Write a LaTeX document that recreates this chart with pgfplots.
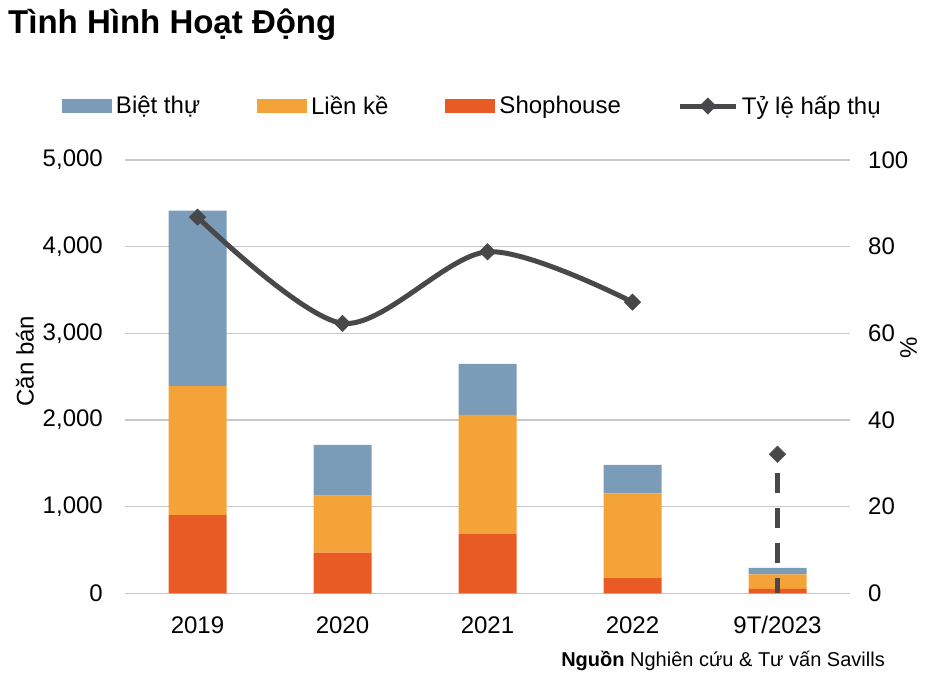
\documentclass[border=0pt]{standalone}
\usepackage{pgfplots}
\pgfplotsset{compat=1.18}
\usepackage{fontspec}
\setmainfont{Liberation Sans}
\definecolor{cBiet}{HTML}{7A9CB8}
\definecolor{cLien}{HTML}{F4A338}
\definecolor{cShop}{HTML}{E85B25}
\definecolor{lineC}{HTML}{48484A}
\definecolor{axgray}{HTML}{C8C4C2}
\definecolor{grgray}{HTML}{C9C9C9}
\pgfplotsset{
  patchleg/.style={legend image code/.code={\fill[##1,draw=none] (0pt,-7pt) rectangle (50pt,7pt);}},
  lineleg/.style={legend image code/.code={\draw[##1,mark repeat=2,mark phase=2] plot coordinates {(0pt,0pt)(27.5pt,0pt)(55pt,0pt)};}},
  common/.style={
    at={(125pt,90.6pt)}, anchor=south west, scale only axis,
    width=725pt, height=433.5pt, xmin=-0.5, xmax=4.5,
    every tick label/.append style={font=\fontsize{24}{28}\selectfont},
    label style={font=\fontsize{24}{28}\selectfont},
    /pgf/number format/assume math mode=true,
    /pgf/number format/1000 sep={,},
    scaled y ticks=false,
  }
}
\begin{document}
\begin{tikzpicture}[x=1pt,y=1pt]
\useasboundingbox (0,0) rectangle (934,684);
\node[anchor=base west, inner sep=0pt, font=\fontsize{33}{38}\selectfont\bfseries] at (8,650.4) {Tình Hình Hoạt Động};
\node[anchor=base east, inner sep=0pt, font=\fontsize{20}{24}\selectfont] at (885,17.3) {\textbf{Nguồn} Nghiên cứu \& Tư vấn Savills};
\begin{axis}[common,
  ymin=0, ymax=5000,
  ybar stacked, bar width=58pt,
  xtick={0,1,2,3,4}, xticklabels={2019,2020,2021,2022,9T/2023},
  major x tick style={draw=none},
  xticklabel style={anchor=north, inner sep=0pt, yshift=-23pt},
  extra x ticks={-0.5,0.5,1.5,2.5,3.5,4.5}, extra x tick labels={},
  extra x tick style={major tick length=7pt, tick align=outside, major tick style={draw=axgray, line width=1.5pt}, grid=none},
  ytick={0,1000,...,5000}, ymajorgrids,
  major grid style={draw=grgray, line width=1.5pt},
  axis x line*=bottom, axis y line*=left,
  y axis line style={draw=none}, major y tick style={draw=none},
  x axis line style={draw=axgray, line width=1.5pt, -},
  yticklabel style={anchor=east, inner sep=0pt, xshift=-22pt},
  ylabel={Căn bán},
  ylabel style={at={(axis description cs:-0.138,0.536)}, anchor=center},
]
\addplot[fill=cShop, draw=none] coordinates {(0,904)(1,470)(2,685)(3,181)(4,51)};
\addplot[fill=cLien, draw=none] coordinates {(0,1488)(1,657)(2,1373)(3,973)(4,169)};
\addplot[fill=cBiet, draw=none] coordinates {(0,2022)(1,585)(2,589)(3,327)(4,73)};
\end{axis}
\begin{axis}[common,
  ymin=0, ymax=100,
  axis x line=none, axis y line*=right,
  y axis line style={draw=none}, major y tick style={draw=none},
  ytick={0,20,...,100},
  yticklabel style={anchor=west, inner sep=0pt, xshift=18pt},
  ylabel={\%},
  ylabel style={at={(axis description cs:1.081,0.566)}, anchor=center},
  legend columns=4,
  legend cell align=left,
  legend style={at={(axis description cs:-0.0869,1.1243)}, anchor=west, draw=none, fill=none,
    inner sep=0pt, outer sep=0pt, font=\fontsize{24}{28}\selectfont,
    nodes={inner sep=0pt},
    /tikz/every odd column/.append style={column sep=4pt},
    /tikz/every even column/.append style={column sep=57pt},
    /tikz/column 2/.append style={column sep=60pt},
    /tikz/column 4/.append style={column sep=49pt},
    /tikz/column 5/.append style={column sep=6pt},
    /tikz/column 6/.append style={column sep=62pt}},
]
\addlegendimage{patchleg, fill=cBiet}
\addlegendentry{Biệt thự}
\addlegendimage{patchleg, fill=cLien}
\addlegendentry{Liền kề}
\addlegendimage{patchleg, fill=cShop}
\addlegendentry{Shophouse}
\addplot[lineleg, draw=lineC, line width=5pt, smooth, tension=0.5,
  mark=square*, mark size=5.8pt, mark options={rotate=45, solid, fill=lineC, draw=lineC, line width=0.5pt}]
  coordinates {(0,86.8)(1,62.3)(2,78.8)(3,67.2)};
\addlegendentry{Tỷ lệ hấp thụ}
\addplot[forget plot, draw=lineC, line width=5pt, dash pattern=on 20pt off 15pt, dash phase=5pt,
  mark=square*, mark size=5.8pt, mark indices={2}, mark options={rotate=45, solid, fill=lineC, draw=lineC, line width=0.5pt}]
  coordinates {(4,0)(4,32.1)};
\end{axis}
\end{tikzpicture}
\end{document}
